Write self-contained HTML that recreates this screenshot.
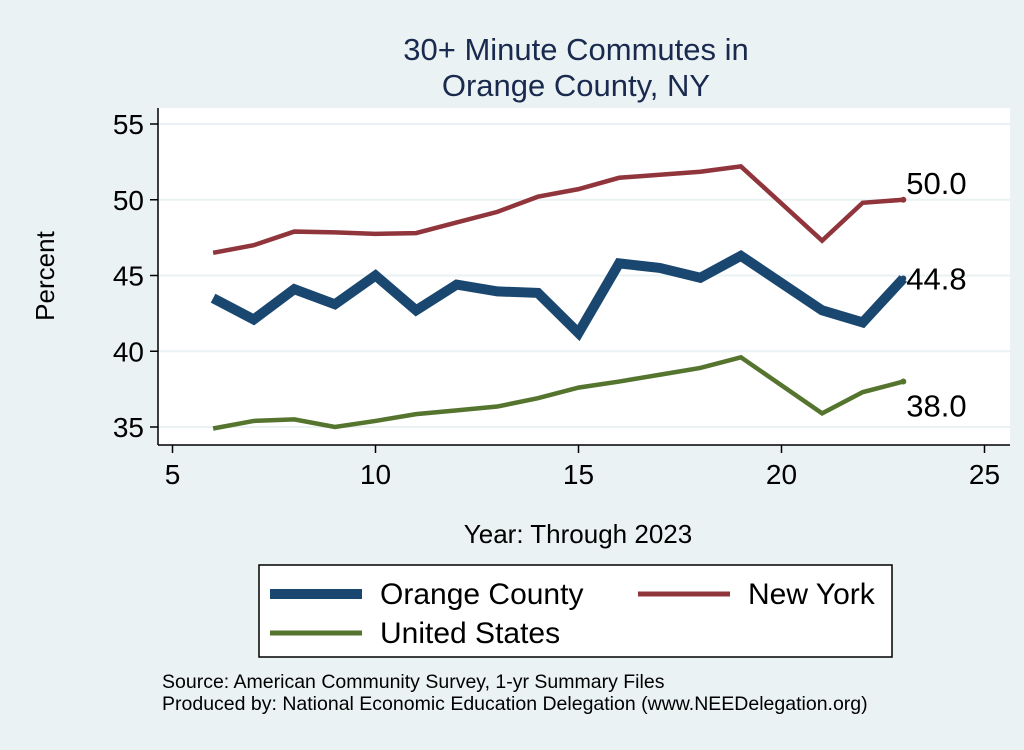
<!DOCTYPE html>
<html><head><meta charset="utf-8"><style>
body{margin:0;background:#eaf2f3;}
svg text{font-family:"Liberation Sans",Arial,sans-serif;}
</style></head><body>
<svg width="1024" height="745" xmlns="http://www.w3.org/2000/svg">
<rect x="0" y="0" width="1024" height="745" fill="#eaf2f3"/>
<text x="576" y="60" font-size="31" fill="#1a2a4f" text-anchor="middle">30+ Minute Commutes in</text>
<text x="576" y="96" font-size="31" fill="#1a2a4f" text-anchor="middle">Orange County, NY</text>
<rect x="158" y="108" width="852" height="337" fill="#ffffff"/>
<g id="grid"></g><g id="axes"></g><g id="series"></g>
<text x="54" y="276" font-size="26" fill="#000" text-anchor="middle" transform="rotate(-90 54 276)">Percent</text>
<text x="578" y="543" font-size="26" fill="#000" text-anchor="middle">Year: Through 2023</text>
<g>
<rect x="259" y="565" width="633" height="92" fill="#fff" stroke="#000" stroke-width="1.5"/>
<line x1="270" y1="594" x2="362" y2="594" stroke="#1a476f" stroke-width="10"/>
<text x="380" y="604" font-size="30">Orange County</text>
<line x1="638" y1="594" x2="730" y2="594" stroke="#90353b" stroke-width="5"/>
<text x="748" y="604" font-size="30">New York</text>
<line x1="270" y1="633" x2="362" y2="633" stroke="#55752f" stroke-width="5"/>
<text x="380" y="643" font-size="30">United States</text>
</g>
<text x="162" y="688" font-size="19.5">Source: American Community Survey, 1-yr Summary Files</text>
<text x="162" y="710" font-size="19.5">Produced by: National Economic Education Delegation (www.NEEDelegation.org)</text>
</svg>
<script>
const years=[6,7,8,9,10,11,12,13,14,15,16,17,18,19,21,22,23];
const orange=[43.5,42.1,44.1,43.1,45.0,42.7,44.4,43.95,43.85,41.2,45.8,45.5,44.85,46.3,42.7,41.9,44.8];
const newYork=[46.5,47.0,47.9,47.85,47.75,47.8,48.5,49.2,50.2,50.7,51.45,51.65,51.85,52.2,47.3,49.8,50.0];
const unitedStates=[34.9,35.4,35.5,35.0,35.4,35.85,36.1,36.35,36.9,37.6,38.0,38.45,38.9,39.6,35.9,37.3,38.0];
const xTicks=[5,10,15,20,25];
const yTicks=[35,40,45,50,55];
const NS="http://www.w3.org/2000/svg";
const xs=v=>172.5+(v-5)*40.6;
const ys=v=>124+(55-v)*15.15;
function mk(tag,attrs,parent){const e=document.createElementNS(NS,tag);for(const k in attrs)e.setAttribute(k,attrs[k]);parent.appendChild(e);return e;}
const grid=document.getElementById('grid'),axes=document.getElementById('axes'),ser=document.getElementById('series');
mk('line',{x1:158,y1:445,x2:1010,y2:445,stroke:'#000','stroke-width':1.5},axes);
mk('line',{x1:158,y1:108,x2:158,y2:445,stroke:'#000','stroke-width':1.5},axes);
yTicks.forEach(t=>{
 const g=mk('line',{x1:158,x2:1010,y1:ys(t),y2:ys(t),stroke:'#eaf2f3','stroke-width':2},grid);
 
 
 mk('line',{x1:150,x2:158,y1:ys(t),y2:ys(t),stroke:'#000','stroke-width':1.5},axes);
 const tx=mk('text',{x:144,y:ys(t)+10,'font-size':28,'text-anchor':'end'},axes);tx.textContent=t;
 
 
});
xTicks.forEach(t=>{
 mk('line',{x1:xs(t),x2:xs(t),y1:445,y2:453,stroke:'#000','stroke-width':1.5},axes);
 const tx=mk('text',{x:xs(t),y:484,'font-size':28,'text-anchor':'middle'},axes);tx.textContent=t;
 
 
});
function line(data,color,w,name){
 const p=mk('polyline',{points:years.map((y,i)=>xs(y)+','+ys(data[i])).join(' '),fill:'none',stroke:color,'stroke-width':w,'stroke-linejoin':'miter'},ser);
 
 
 const last=data[data.length-1],lx=xs(years[years.length-1]);
 mk('circle',{cx:lx,cy:ys(last),r:3,fill:color},ser);
 return [lx,ys(last),last];
}
const a=line(unitedStates,'#55752f',4.5,'series-united-states');
const b=line(newYork,'#90353b',4.5,'series-new-york');
const c=line(orange,'#1a476f',10,'series-orange-county');
[[b,-6,'label-new-york'],[c,11,'label-orange-county'],[a,35,'label-united-states']].forEach(([d,dy,n])=>{
 const t=mk('text',{x:d[0]+3,y:d[1]+dy,'font-size':31},ser);t.textContent=d[2].toFixed(1);
 
 
});
</script>
</body></html>
